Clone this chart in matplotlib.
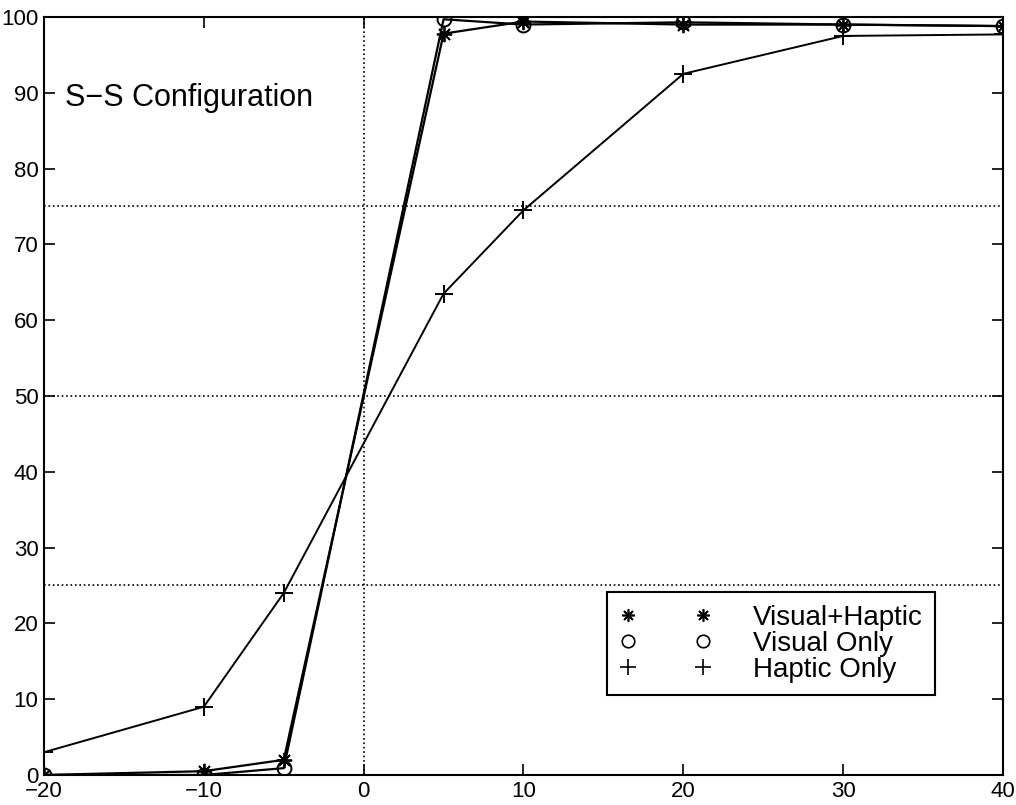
import matplotlib.pyplot as plt
from matplotlib.lines import Line2D

plt.rcParams["font.family"] = ["Liberation Sans", "DejaVu Sans"]

# offsets (x) and percent values
x = [-20, -10, -5, 5, 10, 20, 30, 40]
visual_haptic = [0, 0.5, 2, 97.8, 99.4, 99.0, 99.0, 98.8]
visual_only = [0, 0, 0.9, 99.7, 99.0, 99.3, 99.0, 98.8]
haptic_only = [3, 9, 24, 63.5, 74.5, 92.5, 97.5, 97.7]

xticks = [-20, -10, 0, 10, 20, 30, 40]
yticks = [0, 10, 20, 30, 40, 50, 60, 70, 80, 90, 100]
ref_levels = [25, 50, 75]

asterisk = (8, 2, 0)

fig = plt.figure(figsize=(10.16, 8.05), dpi=100)
ax = fig.add_axes([0.0433, 0.0373, 0.9439, 0.9416])

# dotted reference lines
for lev in ref_levels:
    ax.axhline(lev, color="black", linestyle=":", linewidth=1.2, zorder=1)
ax.axvline(0, color="black", linestyle=":", linewidth=1.2, zorder=1)

ax.plot(x, visual_haptic, color="black", linewidth=1.6, marker=asterisk,
        markersize=11, markeredgewidth=1.3, zorder=3)
ax.plot(x, visual_only, color="black", linewidth=1.6, marker="o",
        markersize=10, markerfacecolor="none", markeredgewidth=1.4, zorder=3)
ax.plot(x, haptic_only, color="black", linewidth=1.4, marker="+",
        markersize=13, markeredgewidth=1.4, zorder=3)

ax.set_xlim(-20, 40)
ax.set_ylim(0, 100)
ax.set_xticks(xticks)
ax.set_yticks(yticks)
ax.set_xticklabels([str(t).replace("-", "\u2212") for t in xticks])
ax.tick_params(direction="in", length=8, width=1.2, labelsize=16,
               top=True, right=True, pad=4)
for s in ax.spines.values():
    s.set_linewidth(1.5)

ax.text(-18.7, 89.3, "S\u2212S Configuration", fontsize=22, va="center",
        ha="left")

handles = [
    Line2D([], [], linestyle="none", marker=asterisk, color="black",
           markersize=9, markeredgewidth=1.2),
    Line2D([], [], linestyle="none", marker="o", color="black",
           markerfacecolor="none", markersize=9, markeredgewidth=1.2),
    Line2D([], [], linestyle="none", marker="+", color="black",
           markersize=11, markeredgewidth=1.2),
]
leg = ax.legend(handles, ["Visual+Haptic", "Visual Only", "Haptic Only"],
                loc="lower right", bbox_to_anchor=(0.929, 0.1055),
                borderaxespad=0, numpoints=2, fontsize=20, frameon=True,
                fancybox=False, edgecolor="black", framealpha=1,
                handlelength=3.3, handletextpad=1.5, borderpad=0.45,
                labelspacing=0.0)
leg.get_frame().set_linewidth(1.5)

fig.savefig("out.png", dpi=100)
